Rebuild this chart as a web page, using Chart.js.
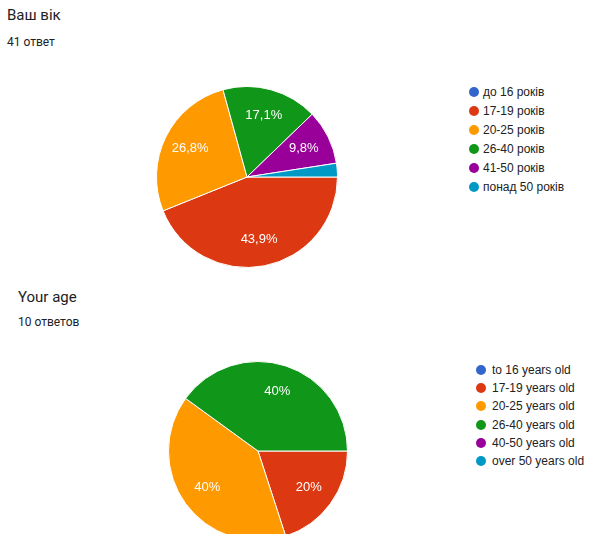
<!DOCTYPE html>
<html>
<head>
<meta charset="utf-8">
<script src="https://cdn.jsdelivr.net/npm/chart.js@4"></script>
<style>
  body { margin: 0; width: 589px; height: 534px; overflow: hidden; background: #fff; position: relative; }
  .title { position: absolute; font-family: Roboto, "Noto Sans", sans-serif; font-size: 15px; color: #202124; }
  .count { position: absolute; font-family: Roboto, "Noto Sans", sans-serif; font-size: 12px; color: #202124; }
  canvas { position: absolute; }
  .legend { position: absolute; font-family: "Liberation Sans", Arial, sans-serif; font-size: 12px; color: #222; }
  .legend div { position: absolute; white-space: nowrap; }
  .legend span { position: absolute; width: 10px; height: 10px; border-radius: 50%; }
</style>
</head>
<body>
<div class="title" style="left:7px;top:6px;">Ваш вік</div>
<div class="count" style="left:7px;top:35px;">41 ответ</div>
<canvas id="pieUk" width="182" height="182" style="left:156px;top:86px;"></canvas>
<div class="legend" id="legendUk"></div>

<div class="title" style="left:18px;top:288px;">Your age</div>
<div class="count" style="left:18px;top:315px;">10 ответов</div>
<canvas id="pieEn" width="180" height="180" style="left:168px;top:361px;"></canvas>
<div class="legend" id="legendEn"></div>

<script>
// ** AGE SURVEY PIES **

const labelsUk = ["до 16 років", "17-19 років", "20-25 років", "26-40 років", "41-50 років", "понад 50 років"];
const countsUk = [0, 18, 11, 7, 4, 1];

const labelsEn = ["to 16 years old", "17-19 years old", "20-25 years old", "26-40 years old", "40-50 years old", "over 50 years old"];
const countsEn = [0, 2, 4, 4, 0, 0];

const sliceColors = ["#3366cc", "#dc3912", "#ff9900", "#109618", "#990099", "#0099c6"];

// percent text inside each slice, google style (hidden for tiny slices)
const percentLabels = {
  id: "percentLabels",
  afterDatasetsDraw(chart, args, opts) {
    const ctx = chart.ctx;
    const data = chart.data.datasets[0].data;
    const total = data.reduce((a, b) => a + b, 0);
    const meta = chart.getDatasetMeta(0);
    ctx.save();
    ctx.fillStyle = "#fff";
    ctx.font = "13px 'Liberation Sans', Arial, sans-serif";
    ctx.textAlign = "center";
    ctx.textBaseline = "middle";
    meta.data.forEach((arc, i) => {
      const pct = (data[i] / total) * 100;
      if (pct < 5) return;
      const mid = (arc.startAngle + arc.endAngle) / 2;
      const r = arc.outerRadius * 0.7;
      let text = (Math.round(pct * 10) / 10).toString();
      if (opts.comma) text = text.replace(".", ",");
      ctx.fillText(text + "%", arc.x + Math.cos(mid) * r, arc.y + Math.sin(mid) * r);
    });
    ctx.restore();
  },
};

function addPie(canvasId, labels, counts, comma) {
  const ctx = document.getElementById(canvasId).getContext("2d");
  return new Chart(ctx, {
    type: "pie",
    data: {
      labels: labels,
      datasets: [
        {
          data: counts,
          backgroundColor: sliceColors,
          borderColor: "#fff",
          borderWidth: 1,
        },
      ],
    },
    options: {
      responsive: false,
      animation: false,
      rotation: 90,
      layout: { padding: 0 },
      plugins: {
        legend: { display: false },
        tooltip: { enabled: false },
        percentLabels: { comma: comma },
      },
    },
    plugins: [percentLabels],
  });
}

function addLegend(boxId, labels, left, top, step, textGap) {
  const box = document.getElementById(boxId);
  box.style.left = left + "px";
  box.style.top = top + "px";
  labels.forEach((label, i) => {
    const row = document.createElement("div");
    row.style.top = i * step + "px";
    row.style.left = "0px";
    const dot = document.createElement("span");
    dot.style.background = sliceColors[i];
    dot.style.left = "0px";
    dot.style.top = "2px";
    const txt = document.createElement("div");
    txt.textContent = label;
    txt.style.left = textGap + "px";
    txt.style.top = "0px";
    row.appendChild(dot);
    row.appendChild(txt);
    box.appendChild(row);
  });
}

addPie("pieUk", labelsUk, countsUk, true);
addPie("pieEn", labelsEn, countsEn, false);
addLegend("legendUk", labelsUk, 469, 85, 19, 14);
addLegend("legendEn", labelsEn, 476, 363, 18.2, 16);
</script>
</body>
</html>
